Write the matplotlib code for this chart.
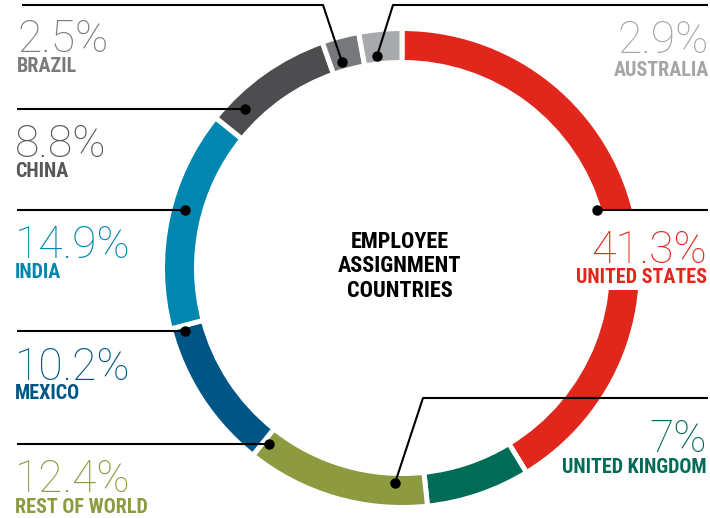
import matplotlib.pyplot as plt
from matplotlib.patches import Rectangle

# Employee assignment share by country (percent), clockwise from 12 o'clock
countries = ["UNITED STATES", "UNITED KINGDOM", "REST OF WORLD", "MEXICO",
             "INDIA", "CHINA", "BRAZIL", "AUSTRALIA"]
shares = [41.3, 7.0, 12.4, 10.2, 14.9, 8.8, 2.5, 2.9]
labels = ["41.3%", "7%", "12.4%", "10.2%", "14.9%", "8.8%", "2.5%", "2.9%"]
ring_colors = ["#E1261C", "#006B56", "#8D9A3F", "#005587",
               "#0086AF", "#4D4D4F", "#77787B", "#A7A9AC"]
text_colors = ["#E1261C", "#006B56", "#8D9A3F", "#005587",
               "#0086AF", "#58585A", "#7A7A7D", "#A3A5A8"]

W, H = 710, 518
cx, cy = 402, 268

fig = plt.figure(figsize=(W / 100, H / 100), dpi=100)
ax = fig.add_axes([0, 0, 1, 1])

ax.pie(shares, colors=ring_colors, startangle=90, counterclock=False,
       center=(cx, H - cy), radius=239.5,
       wedgeprops=dict(width=34, edgecolor="white", linewidth=3.6))

num_font = dict(family=["Roboto", "DejaVu Sans"], fontweight="light", fontsize=32)
name_font = dict(family=["Liberation Sans Narrow", "Roboto Condensed", "DejaVu Sans"],
                 fontweight="bold", fontsize=14.5)

# leader lines: dot first, then elbow / end point (pixel coords from top)
leaders = {
    "UNITED STATES": [(597, 210), (708, 210)],
    "UNITED KINGDOM": [(395, 483), (423, 398), (708, 398)],
    "REST OF WORLD": [(269, 444), (17, 444)],
    "MEXICO": [(185, 331), (17, 331)],
    "INDIA": [(185, 210), (17, 210)],
    "CHINA": [(245, 109), (17, 109)],
    "BRAZIL": [(342, 62), (323, 5), (22, 5)],
    "AUSTRALIA": [(377, 56), (393, 5), (708, 5)],
}
# x, number baseline, name baseline, alignment
label_pos = {
    "UNITED STATES": (707, 263, 283, "right"),
    "UNITED KINGDOM": (707, 452, 473, "right"),
    "REST OF WORLD": (15, 492, 513, "left"),
    "MEXICO": (15, 380, 399, "left"),
    "INDIA": (15, 258, 278, "left"),
    "CHINA": (15, 157, 177, "left"),
    "BRAZIL": (17, 52, 72, "left"),
    "AUSTRALIA": (709, 53, 76, "right"),
}

# white panel behind the US label, cutting the ring
ax.add_patch(Rectangle((584, H - 290), 126, 79, facecolor="white",
                       edgecolor="none", zorder=2))

for name, lab, col in zip(countries, labels, text_colors):
    pts = leaders[name]
    xs = [p[0] for p in pts]
    ys = [H - p[1] for p in pts]
    ax.plot(xs, ys, color="black", lw=1.5, solid_capstyle="butt", zorder=3)
    ax.plot(xs[0], ys[0], "o", color="black", ms=6.5, zorder=4)

    x, yb_num, yb_name, ha = label_pos[name]
    ax.text(x, H - yb_num, lab, color=col, ha=ha, va="baseline", zorder=5, **num_font)
    ax.text(x, H - yb_name, name, color=col, ha=ha, va="baseline", zorder=5, **name_font)

center_lines = ["EMPLOYEE", "ASSIGNMENT", "COUNTRIES"]
for i, line in enumerate(center_lines):
    ax.text(400, H - (248 + 24.3 * i), line, color="black", ha="center",
            va="baseline", family=["Liberation Sans Narrow", "Roboto Condensed", "DejaVu Sans"],
            fontweight="bold", fontsize=16)

ax.set_xlim(0, W)
ax.set_ylim(0, H)
ax.set_aspect("auto")
ax.axis("off")

fig.savefig("out.png", dpi=100, facecolor="white")
